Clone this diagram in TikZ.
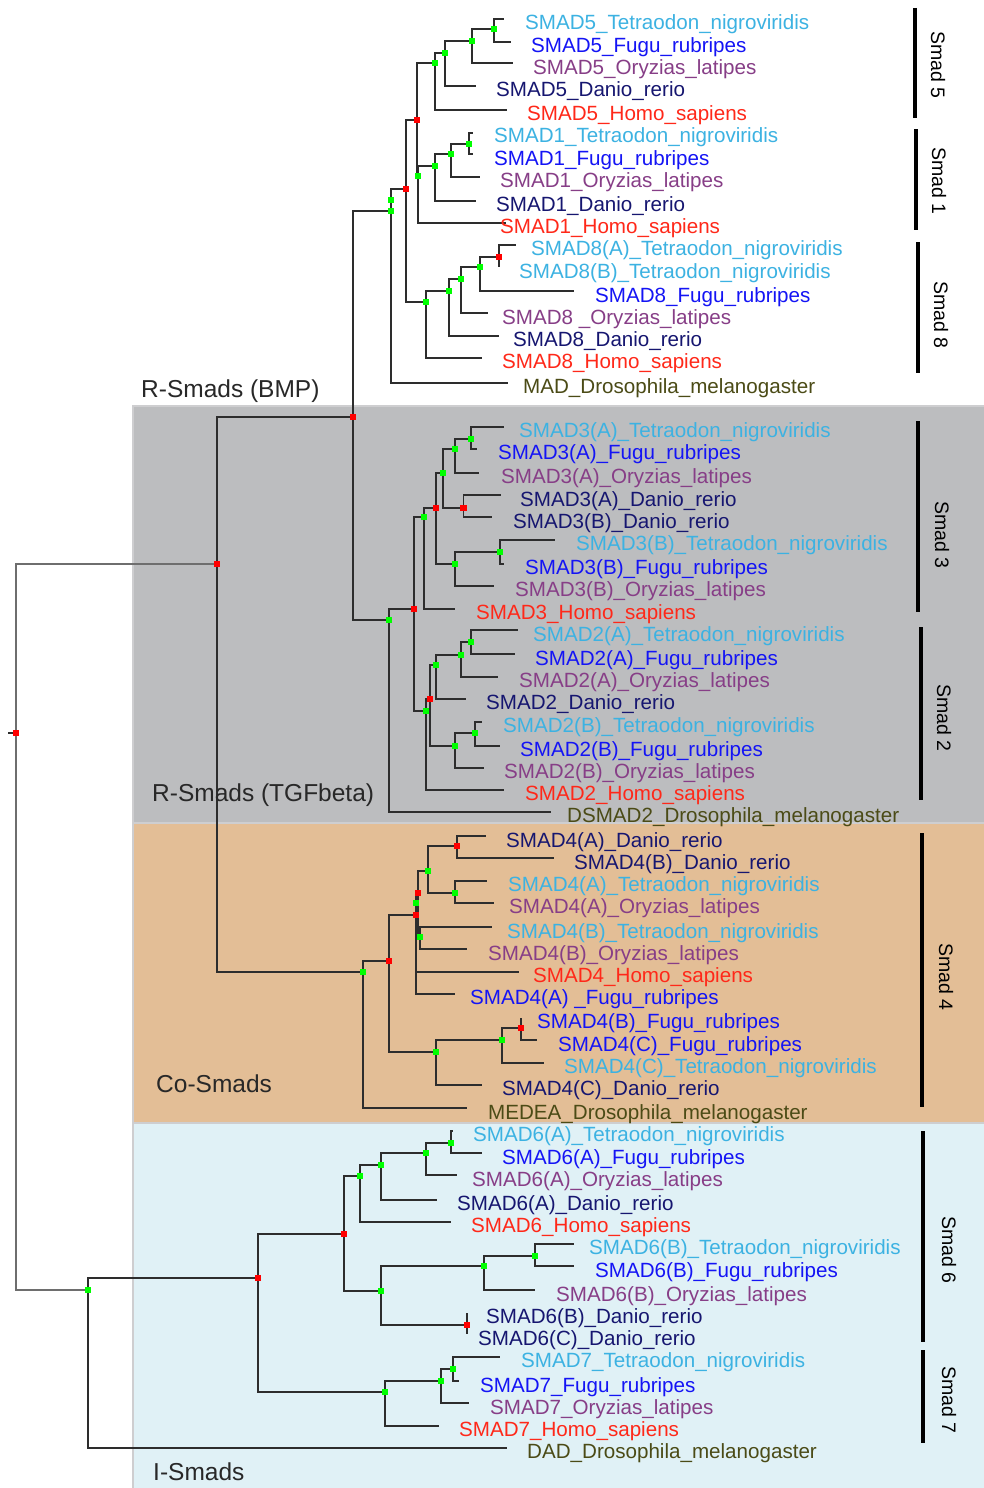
\documentclass[tikz,border=0pt]{standalone}
\usepackage{fontspec}
\setmainfont{Liberation Sans}
\definecolor{cTet}{RGB}{60,178,226}
\definecolor{cFugu}{RGB}{20,20,245}
\definecolor{cOry}{RGB}{135,62,135}
\definecolor{cDan}{RGB}{22,22,112}
\definecolor{cHomo}{RGB}{255,40,25}
\definecolor{cDros}{RGB}{75,75,22}
\definecolor{cGroup}{RGB}{40,40,40}
\definecolor{bgGray}{RGB}{188,189,191}
\definecolor{bgOrange}{RGB}{227,190,150}
\definecolor{bgBlue}{RGB}{224,241,246}
\definecolor{bgBorder}{RGB}{206,206,208}
\definecolor{edgeCol}{RGB}{45,45,45}
\definecolor{rootCol}{RGB}{110,110,110}
\definecolor{mkGreen}{RGB}{0,255,0}
\definecolor{mkRed}{RGB}{255,0,0}
\tikzset{
  edge/.style={draw=edgeCol,line width=1.3pt},
  rootedge/.style={draw=rootCol,line width=1.8pt},
  leaf/.style={anchor=base west,inner sep=0pt,font=\fontsize{20.6}{22}\selectfont},
  grouplabel/.style={anchor=base west,inner sep=0pt,text=cGroup,font=\fontsize{24.5}{26}\selectfont},
  famlabel/.style={rotate=-90,anchor=center,inner sep=0pt,text=black,font=\fontsize{19.5}{21}\selectfont},
  bar/.style={draw=black,line width=4pt},
  gm/.style={fill=mkGreen,draw=none,minimum size=6.5pt,inner sep=0pt,rectangle},
  rm/.style={fill=mkRed,draw=none,minimum size=6.5pt,inner sep=0pt,rectangle},
  section/.style={draw=bgBorder,line width=2pt}
}
\newcommand{\leafnode}[5]{\node[leaf,text=#4] (#1) at (#2,#3+7.3) {#5};}
\begin{document}
\begin{tikzpicture}[x=1pt,y=-1pt]
\useasboundingbox (0,0) rectangle (984,1488);
\fill[white] (0,0) rectangle (984,1488);
% section backgrounds
\fill[bgGray] (133,406) rectangle (984,823);
\fill[bgOrange] (133,823) rectangle (984,1123);
\fill[bgBlue] (133,1123) rectangle (984,1488);
\draw[section] (984,406) -- (133,406) -- (133,1488);
\draw[section] (133,823) -- (984,823);
\draw[section] (133,1123) -- (984,1123);

% ---------- internal nodes ----------
\coordinate (n5a) at (494,29);
\coordinate (n5b) at (472,41);
\coordinate (n5c) at (445,53);
\coordinate (n5d) at (435,63);
\coordinate (n1a) at (469,144);
\coordinate (n1b) at (451,154);
\coordinate (n1c) at (435,166);
\coordinate (n1d) at (418,176);
\coordinate (nE) at (417,120);
\coordinate (n8a) at (499,257);
\coordinate (n8b) at (480,267);
\coordinate (n8c) at (461,279);
\coordinate (n8d) at (449,291);
\coordinate (n8e) at (426,302);
\coordinate (nF) at (406,189);
\coordinate (nP) at (391,200);
\coordinate (nQ) at (391,211);
\coordinate (nR) at (353,417);
\coordinate (n3a) at (471,439);
\coordinate (n3b) at (455,449);
\coordinate (n3c) at (443,473);
\coordinate (n3d) at (463.5,508);
\coordinate (n3e) at (455,564);
\coordinate (n3f) at (500,552);
\coordinate (n3g) at (436,508);
\coordinate (n3h) at (424,517);
\coordinate (n2a) at (471,642);
\coordinate (n2b) at (461,655);
\coordinate (n2c) at (436,665);
\coordinate (n2d) at (430,699);
\coordinate (n2e) at (475,733);
\coordinate (n2f) at (455,746);
\coordinate (n2g) at (426,711);
\coordinate (nS) at (414,609);
\coordinate (nT) at (389,620);
\coordinate (nU) at (217,564);
\coordinate (root) at (16,733);
\coordinate (rstub) at (8,733);
\coordinate (nCo) at (363,972);
\coordinate (n4r) at (389,961);
\coordinate (n4b) at (416,915);
\coordinate (n4g) at (416,903);
\coordinate (n4a) at (418,893);
\coordinate (n4c) at (428,871);
\coordinate (n4d) at (457,846);
\coordinate (n4e) at (455,893);
\coordinate (n4h) at (420,937);
\coordinate (n4k) at (436,1052);
\coordinate (n4m) at (502,1040);
\coordinate (n4n) at (521,1028);
\coordinate (nI) at (88,1290);
\coordinate (n6r) at (258,1278);
\coordinate (n6s) at (344,1234);
\coordinate (n6a) at (360,1176);
\coordinate (n6b) at (381,1165);
\coordinate (n6c) at (426,1153);
\coordinate (n6d) at (451,1143);
\coordinate (n6g) at (381,1291);
\coordinate (n6h) at (484,1266);
\coordinate (n6i) at (535,1256);
\coordinate (n6k) at (467,1325);
\coordinate (n7a) at (385,1392);
\coordinate (n7b) at (441,1381);
\coordinate (n7c) at (453,1369);

% ---------- leaf branch ends ----------
\coordinate (e1) at (504,19);
\coordinate (e2) at (511,42);
\coordinate (e3) at (513,63);
\coordinate (e4) at (476,86);
\coordinate (e5) at (507,110);
\coordinate (e6) at (473,133);
\coordinate (e7) at (473,154);
\coordinate (e8) at (480,177);
\coordinate (e9) at (476,201);
\coordinate (e10) at (506,223);
\coordinate (e11) at (516,245);
\coordinate (e12) at (499,267);
\coordinate (e13) at (574,291);
\coordinate (e14) at (488,313);
\coordinate (e15) at (499,336);
\coordinate (e16) at (482,358);
\coordinate (e17) at (508,383);
\coordinate (e18) at (504,427);
\coordinate (e19) at (477,449);
\coordinate (e20) at (479,473);
\coordinate (e21) at (501,495);
\coordinate (e22) at (492,517);
\coordinate (e23) at (555,540);
\coordinate (e24) at (504,564);
\coordinate (e25) at (494,586);
\coordinate (e26) at (455,609);
\coordinate (e27) at (518,630);
\coordinate (e28) at (515,654);
\coordinate (e29) at (498,677);
\coordinate (e30) at (466,699);
\coordinate (e31) at (482,722);
\coordinate (e32) at (500,746);
\coordinate (e33) at (484,768);
\coordinate (e34) at (504,790);
\coordinate (e35) at (551,812);
\coordinate (e36) at (486,836);
\coordinate (e37) at (554,858);
\coordinate (e38) at (487,881);
\coordinate (e39) at (494,903);
\coordinate (e40) at (492,927);
\coordinate (e41) at (467,949);
\coordinate (e42) at (519,972);
\coordinate (e43) at (455,994);
\coordinate (e44) at (521,1018);
\coordinate (e45) at (537,1040);
\coordinate (e46) at (544,1063);
\coordinate (e47) at (482,1085);
\coordinate (e48) at (467,1108);
\coordinate (e49) at (453,1131);
\coordinate (e50) at (482,1153);
\coordinate (e51) at (457,1175);
\coordinate (e52) at (437,1200);
\coordinate (e53) at (451,1222);
\coordinate (e54) at (574,1244);
\coordinate (e55) at (574,1266);
\coordinate (e56) at (535,1290);
\coordinate (e57) at (467,1313);
\coordinate (e58) at (467,1334);
\coordinate (e59) at (500,1357);
\coordinate (e60) at (459,1381);
\coordinate (e61) at (469,1403);
\coordinate (e62) at (439,1426);
\coordinate (e63) at (507,1448);

% ---------- branches ----------
\foreach \p/\c in {n5a/e1,n5a/e2,n5b/n5a,n5b/e3,n5c/n5b,n5c/e4,n5d/n5c,n5d/e5,
  n1a/e6,n1a/e7,n1b/n1a,n1b/e8,n1c/n1b,n1c/e9,n1d/n1c,n1d/e10,nE/n5d,nE/n1d,
  n8a/e11,n8a/e12,n8b/n8a,n8b/e13,n8c/n8b,n8c/e14,n8d/n8c,n8d/e15,n8e/n8d,n8e/e16,
  nF/nE,nF/n8e,nQ/nF,nQ/e17,nR/nQ,nR/nT,nU/nR,nU/nCo,
  n3a/e18,n3a/e19,n3b/n3a,n3b/e20,n3d/e21,n3d/e22,n3c/n3b,n3c/n3d,n3f/e23,n3f/e24,
  n3e/n3f,n3e/e25,n3g/n3c,n3g/n3e,n3h/n3g,n3h/e26,n2a/e27,n2a/e28,n2b/n2a,n2b/e29,
  n2c/n2b,n2c/e30,n2e/e31,n2e/e32,n2f/n2e,n2f/e33,n2d/n2c,n2d/n2f,n2g/n2d,n2g/e34,
  nS/n3h,nS/n2g,nT/nS,nT/e35,
  nCo/n4r,nCo/e48,n4r/n4b,n4r/n4k,n4b/n4a,n4b/e42,n4b/e43,n4a/n4c,n4a/n4h,
  n4c/n4d,n4c/n4e,n4d/e36,n4d/e37,n4e/e38,n4e/e39,n4h/e40,n4h/e41,n4k/n4m,n4k/e47,
  n4m/n4n,n4m/e46,n4n/e44,n4n/e45,
  nI/n6r,nI/e63,n6r/n6s,n6r/n7a,n6s/n6a,n6s/n6g,n6a/n6b,n6a/e53,n6b/n6c,n6b/e52,
  n6c/n6d,n6c/e51,n6d/e49,n6d/e50,n6g/n6h,n6g/n6k,n6h/n6i,n6h/e56,n6i/e54,n6i/e55,
  n6k/e57,n6k/e58,n7a/n7b,n7a/e62,n7b/n7c,n7b/e61,n7c/e59,n7c/e60}
  {\draw[edge] (\p) |- (\c);}
\draw[rootedge] (root) |- (nU);
\draw[rootedge] (root) |- (nI);
\draw[edge] (root) -- (rstub);

% ---------- node markers ----------
\foreach \p in {n5a,n5b,n5c,n5d,n1a,n1b,n1c,n1d,n8b,n8c,n8d,n8e,nP,nQ,
  n3a,n3b,n3c,n3e,n3f,n3h,n2a,n2b,n2c,n2e,n2f,n2g,nT,
  nCo,n4c,n4e,n4g,n4h,n4k,n4m,
  nI,n6a,n6b,n6c,n6d,n6g,n6h,n6i,n7a,n7b,n7c}
  {\node[gm] (g-\p) at (\p) {};}
\foreach \p in {nE,nF,n8a,nR,nU,root,n3d,n3g,nS,n2d,n4r,n4b,n4a,n4d,n4n,n6r,n6s,n6k}
  {\node[rm] (r-\p) at (\p) {};}

% ---------- leaf labels ----------
\leafnode{t1}{525}{22}{cTet}{SMAD5\_Tetraodon\_nigroviridis}
\leafnode{t2}{531}{45}{cFugu}{SMAD5\_Fugu\_rubripes}
\leafnode{t3}{533}{67}{cOry}{SMAD5\_Oryzias\_latipes}
\leafnode{t4}{496}{89}{cDan}{SMAD5\_Danio\_rerio}
\leafnode{t5}{527}{113}{cHomo}{SMAD5\_Homo\_sapiens}
\leafnode{t6}{494}{135}{cTet}{SMAD1\_Tetraodon\_nigroviridis}
\leafnode{t7}{494}{158}{cFugu}{SMAD1\_Fugu\_rubripes}
\leafnode{t8}{500}{180}{cOry}{SMAD1\_Oryzias\_latipes}
\leafnode{t9}{496}{204}{cDan}{SMAD1\_Danio\_rerio}
\leafnode{t10}{500}{226}{cHomo}{SMAD1\_Homo\_sapiens}
\leafnode{t11}{531}{248}{cTet}{SMAD8(A)\_Tetraodon\_nigroviridis}
\leafnode{t12}{519}{271}{cTet}{SMAD8(B)\_Tetraodon\_nigroviridis}
\leafnode{t13}{595}{295}{cFugu}{SMAD8\_Fugu\_rubripes}
\leafnode{t14}{502}{317}{cOry}{SMAD8 \_Oryzias\_latipes}
\leafnode{t15}{513}{339}{cDan}{SMAD8\_Danio\_rerio}
\leafnode{t16}{502}{361}{cHomo}{SMAD8\_Homo\_sapiens}
\leafnode{t17}{523}{386}{cDros}{MAD\_Drosophila\_melanogaster}
\leafnode{t18}{519}{430}{cTet}{SMAD3(A)\_Tetraodon\_nigroviridis}
\leafnode{t19}{498}{452}{cFugu}{SMAD3(A)\_Fugu\_rubripes}
\leafnode{t20}{501}{476}{cOry}{SMAD3(A)\_Oryzias\_latipes}
\leafnode{t21}{520}{499}{cDan}{SMAD3(A)\_Danio\_rerio}
\leafnode{t22}{513}{521}{cDan}{SMAD3(B)\_Danio\_rerio}
\leafnode{t23}{576}{543}{cTet}{SMAD3(B)\_Tetraodon\_nigroviridis}
\leafnode{t24}{525}{567}{cFugu}{SMAD3(B)\_Fugu\_rubripes}
\leafnode{t25}{515}{589}{cOry}{SMAD3(B)\_Oryzias\_latipes}
\leafnode{t26}{476}{612}{cHomo}{SMAD3\_Homo\_sapiens}
\leafnode{t27}{533}{634}{cTet}{SMAD2(A)\_Tetraodon\_nigroviridis}
\leafnode{t28}{535}{658}{cFugu}{SMAD2(A)\_Fugu\_rubripes}
\leafnode{t29}{519}{680}{cOry}{SMAD2(A)\_Oryzias\_latipes}
\leafnode{t30}{486}{702}{cDan}{SMAD2\_Danio\_rerio}
\leafnode{t31}{503}{725}{cTet}{SMAD2(B)\_Tetraodon\_nigroviridis}
\leafnode{t32}{520}{749}{cFugu}{SMAD2(B)\_Fugu\_rubripes}
\leafnode{t33}{504}{771}{cOry}{SMAD2(B)\_Oryzias\_latipes}
\leafnode{t34}{525}{793}{cHomo}{SMAD2\_Homo\_sapiens}
\leafnode{t35}{567}{815}{cDros}{DSMAD2\_Drosophila\_melanogaster}
\leafnode{t36}{506}{840}{cDan}{SMAD4(A)\_Danio\_rerio}
\leafnode{t37}{574}{862}{cDan}{SMAD4(B)\_Danio\_rerio}
\leafnode{t38}{508}{884}{cTet}{SMAD4(A)\_Tetraodon\_nigroviridis}
\leafnode{t39}{509}{906}{cOry}{SMAD4(A)\_Oryzias\_latipes}
\leafnode{t40}{507}{931}{cTet}{SMAD4(B)\_Tetraodon\_nigroviridis}
\leafnode{t41}{488}{953}{cOry}{SMAD4(B)\_Oryzias\_latipes}
\leafnode{t42}{533}{975}{cHomo}{SMAD4\_Homo\_sapiens}
\leafnode{t43}{470}{997}{cFugu}{SMAD4(A) \_Fugu\_rubripes}
\leafnode{t44}{537}{1021}{cFugu}{SMAD4(B)\_Fugu\_rubripes}
\leafnode{t45}{558}{1044}{cFugu}{SMAD4(C)\_Fugu\_rubripes}
\leafnode{t46}{564}{1066}{cTet}{SMAD4(C)\_Tetraodon\_nigroviridis}
\leafnode{t47}{502}{1088}{cDan}{SMAD4(C)\_Danio\_rerio}
\leafnode{t48}{488}{1112}{cDros}{MEDEA\_Drosophila\_melanogaster}
\leafnode{t49}{473}{1134}{cTet}{SMAD6(A)\_Tetraodon\_nigroviridis}
\leafnode{t50}{502}{1157}{cFugu}{SMAD6(A)\_Fugu\_rubripes}
\leafnode{t51}{472}{1179}{cOry}{SMAD6(A)\_Oryzias\_latipes}
\leafnode{t52}{457}{1203}{cDan}{SMAD6(A)\_Danio\_rerio}
\leafnode{t53}{471}{1225}{cHomo}{SMAD6\_Homo\_sapiens}
\leafnode{t54}{589}{1247}{cTet}{SMAD6(B)\_Tetraodon\_nigroviridis}
\leafnode{t55}{595}{1270}{cFugu}{SMAD6(B)\_Fugu\_rubripes}
\leafnode{t56}{556}{1294}{cOry}{SMAD6(B)\_Oryzias\_latipes}
\leafnode{t57}{486}{1316}{cDan}{SMAD6(B)\_Danio\_rerio}
\leafnode{t58}{478}{1338}{cDan}{SMAD6(C)\_Danio\_rerio}
\leafnode{t59}{521}{1360}{cTet}{SMAD7\_Tetraodon\_nigroviridis}
\leafnode{t60}{480}{1385}{cFugu}{SMAD7\_Fugu\_rubripes}
\leafnode{t61}{490}{1407}{cOry}{SMAD7\_Oryzias\_latipes}
\leafnode{t62}{459}{1429}{cHomo}{SMAD7\_Homo\_sapiens}
\leafnode{t63}{527}{1451}{cDros}{DAD\_Drosophila\_melanogaster}

% ---------- group labels ----------
\node[grouplabel] (gBMP) at (141,389+8.7) {R-Smads (BMP)};
\node[grouplabel] (gTGF) at (152,793+8.7) {R-Smads (TGFbeta)};
\node[grouplabel] (gCo) at (156,1084+8.7) {Co-Smads};
\node[grouplabel] (gI) at (153,1472+8.7) {I-Smads};

% ---------- family bars ----------
\draw[bar] (915,8) -- (915,118);
\draw[bar] (916,129) -- (916,230);
\draw[bar] (918,242) -- (918,373);
\draw[bar] (918,421) -- (918,612);
\draw[bar] (921,627) -- (921,800);
\draw[bar] (922,833) -- (922,1107);
\draw[bar] (923,1131) -- (923,1342);
\draw[bar] (923,1350) -- (923,1443);
\node[famlabel] (f5) at (938,65) {Smad 5};
\node[famlabel] (f1) at (939,181) {Smad 1};
\node[famlabel] (f8) at (941,315) {Smad 8};
\node[famlabel] (f3) at (942,535) {Smad 3};
\node[famlabel] (f2) at (944,718) {Smad 2};
\node[famlabel] (f4) at (946,977) {Smad 4};
\node[famlabel] (f6) at (949,1250) {Smad 6};
\node[famlabel] (f7) at (949,1400) {Smad 7};
\end{tikzpicture}
\end{document}
